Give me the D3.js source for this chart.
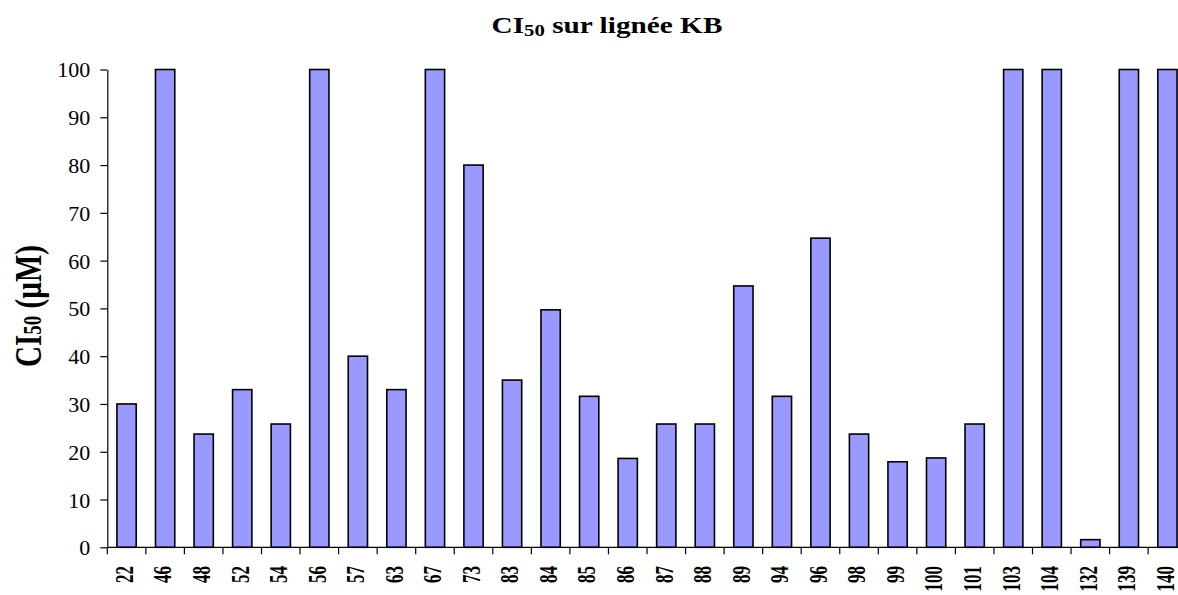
<!DOCTYPE html>
<html>
<head>
<meta charset="utf-8">
<script src="https://cdn.jsdelivr.net/npm/d3@7"></script>
<style>
  html, body { margin: 0; padding: 0; background: #fff; overflow: hidden; }
  svg { display: block; font-family: "Liberation Serif", "Times New Roman", serif; }
</style>
</head>
<body>
<svg id="chart" width="1178" height="595"></svg>
<script>
// Compound numbers and their CI50 values (µM) on the KB cell line
const compounds = ["22","46","48","52","54","56","57","63","67","73","83","84","85","86",
                   "87","88","89","94","96","98","99","100","101","103","104","132","139","140"];
const ci50 = [30, 100, 23.7, 33, 25.8, 100, 40, 33, 100, 80, 35, 49.7, 31.6, 18.6,
              25.8, 25.8, 54.7, 31.6, 64.7, 23.7, 17.9, 18.7, 25.8, 100, 100, 1.6, 100, 100];
const yTicks = [0, 10, 20, 30, 40, 50, 60, 70, 80, 90, 100];

const svg = d3.select("#chart");

const plot = { left: 107.3, right: 1186.7, top: 69.5, bottom: 547.3 };

const x = d3.scaleBand()
  .domain(compounds)
  .range([plot.left, plot.right])
  .paddingInner(0.5)
  .paddingOuter(0.25);

const y = d3.scaleLinear()
  .domain([0, 100])
  .range([plot.bottom, plot.top]);

// Bars
svg.append("g")
  .selectAll("rect")
  .data(compounds.map((c, i) => ({ c, v: ci50[i] })))
  .join("rect")
  .attr("x", d => x(d.c))
  .attr("width", x.bandwidth())
  .attr("y", d => y(d.v))
  .attr("height", d => y(0) - y(d.v))
  .attr("fill", "#9999ff")
  .attr("stroke", "#000")
  .attr("stroke-width", 1.6);

// Y axis
const yAxis = svg.append("g")
  .attr("transform", `translate(${plot.left},0)`)
  .call(d3.axisLeft(y).tickValues(yTicks).tickSize(7).tickSizeOuter(0).tickPadding(10));
yAxis.select(".domain").attr("stroke", "#000").attr("stroke-width", 1.2);
yAxis.selectAll(".tick line").attr("stroke", "#000").attr("stroke-width", 1.2);
yAxis.selectAll(".tick text")
  .attr("font-family", "Liberation Serif, serif")
  .attr("font-size", 22)
  .attr("fill", "#000")
  .attr("dy", "0.34em");

// X axis: baseline with tick marks between categories
const xAxis = svg.append("g");
xAxis.append("line")
  .attr("x1", plot.left).attr("x2", plot.right)
  .attr("y1", y(0)).attr("y2", y(0))
  .attr("stroke", "#000").attr("stroke-width", 1.2);
const step = x.step();
const boundaries = d3.range(compounds.length + 1).map(i => x(compounds[0]) - x.paddingOuter() * step + i * step);
xAxis.selectAll("line.sep")
  .data(boundaries)
  .join("line")
  .attr("class", "sep")
  .attr("x1", d => d).attr("x2", d => d)
  .attr("y1", y(0)).attr("y2", y(0) + 7)
  .attr("stroke", "#000").attr("stroke-width", 1.2);

// Category labels, rotated and bold
xAxis.selectAll("text")
  .data(compounds)
  .join("text")
  .attr("transform", d => `translate(${x(d) + x.bandwidth() / 2},566) scale(1.5,1) rotate(-90)`)
  .attr("text-anchor", "end")
  .attr("y", 4.2)
  .attr("font-size", 17)
  .attr("font-weight", "bold")
  .attr("fill", "#000")
  .text(d => d);

// Title
const title = svg.append("text")
  .attr("transform", "translate(607,33) scale(1.22,1)")
  .attr("text-anchor", "middle")
  .attr("font-size", 24)
  .attr("font-weight", "bold")
  .attr("fill", "#000");
title.append("tspan").text("CI");
title.append("tspan").attr("font-size", 17).attr("dy", 3).text("50");
title.append("tspan").attr("dy", -3).text(" sur lignée  KB");

// Y axis title
const yTitle = svg.append("text")
  .attr("transform", "translate(41,306) scale(1.3,1) rotate(-90)")
  .attr("text-anchor", "middle")
  .attr("font-size", 29)
  .attr("font-weight", "bold")
  .attr("fill", "#000");
yTitle.append("tspan").text("CI");
yTitle.append("tspan").attr("font-size", 19).text("50");
yTitle.append("tspan").text("  (µM)");
</script>
</body>
</html>
